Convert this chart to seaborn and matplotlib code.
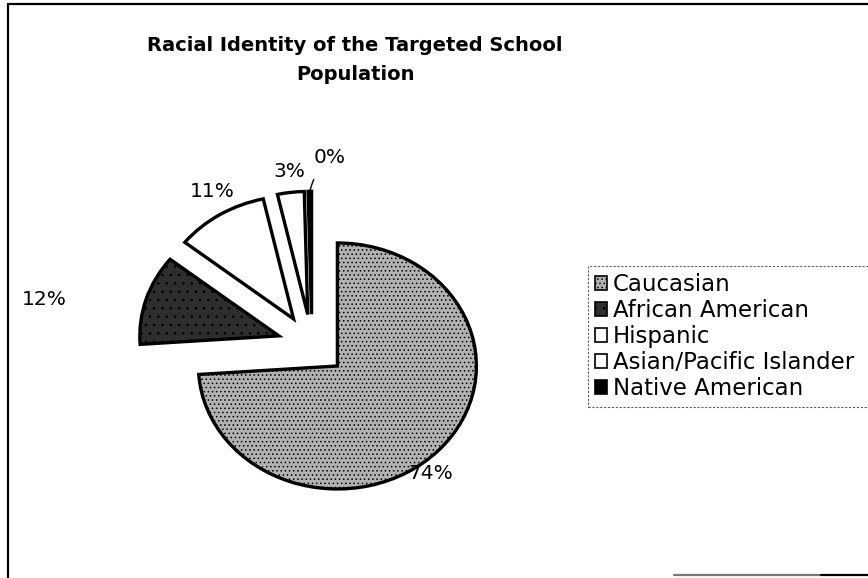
import numpy as np
import matplotlib
matplotlib.use("Agg")
import matplotlib.pyplot as plt
from matplotlib.lines import Line2D
from matplotlib.patches import Patch
import seaborn as sns

# Share of the targeted school population by racial identity (percent)
groups = ["Caucasian", "African American", "Hispanic",
          "Asian/Pacific Islander", "Native American"]
shares = [73.9, 11.8, 10.8, 3.1, 0.4]

# Grey-scale fills, one per group
fills = ["#b2b2b2", "#2e2e2e", "#ffffff", "#ffffff", "#000000"]
hatches = ["....", "..", None, None, None]

# Label placement relative to each wedge: radial distance and angular nudge (deg)
label_radius = [1.10, 1.71, 1.19, 1.17, 1.285]
label_shift = [-9.5, 7.4, -2.4, -0.4, -6.6]

sns.set_theme(style="white")
plt.rcParams["font.family"] = ["DejaVu Sans"]
plt.rcParams["hatch.linewidth"] = 0.6

W, H = 868, 578
fig = plt.figure(figsize=(W / 100, H / 100), dpi=100)
fig.patch.set_facecolor("white")

ax = fig.add_axes([34 / W, 11.6 / H, 556 / W, 442.8 / H])
explode = [0.25] * len(shares)
wedges, _ = ax.pie(shares, colors=fills, explode=explode, startangle=90,
                   counterclock=False, radius=1.0,
                   wedgeprops=dict(edgecolor="black", linewidth=2.4))
for w, h in zip(wedges, hatches):
    if h:
        w.set_hatch(h)

ax.set_aspect("auto")
ax.set_xlim(-2.0, 2.0)
ax.set_ylim(-1.8, 1.8)
ax.axis("off")

# Percentage labels placed around each exploded wedge
for i, w in enumerate(wedges):
    mid = np.deg2rad((w.theta1 + w.theta2) / 2)
    cx, cy = w.center
    ang = mid + np.deg2rad(label_shift[i])
    tx = cx + label_radius[i] * np.cos(ang)
    ty = cy + label_radius[i] * np.sin(ang)
    txt = f"{shares[i]:.0f}%"
    if i == len(wedges) - 1:
        tipx = cx + 1.0 * np.cos(mid)
        tipy = cy + 1.0 * np.sin(mid)
        ax.annotate(txt, xy=(tipx, tipy), xytext=(tx, ty),
                    ha="center", va="center", fontsize=14.5, color="black",
                    arrowprops=dict(arrowstyle="-", color="black", lw=1.0,
                                    shrinkA=8, shrinkB=1,
                                    connectionstyle="arc3,rad=0.15"))
    else:
        ax.text(tx, ty, txt, ha="center", va="center", fontsize=14.5,
                color="black")

# Title
fig.text(355 / W, 1 - 36 / H,
         "Racial Identity of the Targeted School\nPopulation",
         ha="center", va="top", fontsize=14, fontweight="bold",
         linespacing=1.7, color="black")

# Legend, its frame running past the right edge of the figure
handles = [Patch(facecolor=f, edgecolor="black", linewidth=1.2, hatch=h)
           for f, h in zip(fills, hatches)]
leg = fig.legend(handles, groups, loc="upper left", mode="expand",
                 bbox_to_anchor=(588 / W, 1 - 266 / H, (885 - 588) / W, 0.0),
                 fontsize=16.5, frameon=True, fancybox=False,
                 handlelength=0.55, handleheight=0.55, handletextpad=0.22,
                 labelspacing=0.13, borderpad=0.3, borderaxespad=0.0)
for t in leg.get_texts():
    t.set_color("black")
frame = leg.get_frame()
frame.set_edgecolor("#333333")
frame.set_linewidth(0.8)
frame.set_linestyle((0, (2, 1.5)))

# Chart area border
fig.add_artist(Line2D([8 / W, 8 / W], [0, 1 - 4 / H], color="black", lw=1.6))
fig.add_artist(Line2D([8 / W, 1], [1 - 4 / H, 1 - 4 / H], color="black", lw=1.6))
fig.add_artist(Line2D([674 / W, 821 / W], [3 / H, 3 / H], color="#777777", lw=1.6))
fig.add_artist(Line2D([821 / W, 1], [3 / H, 3 / H], color="black", lw=1.6))

fig.savefig("out.png", dpi=100, facecolor="white")
